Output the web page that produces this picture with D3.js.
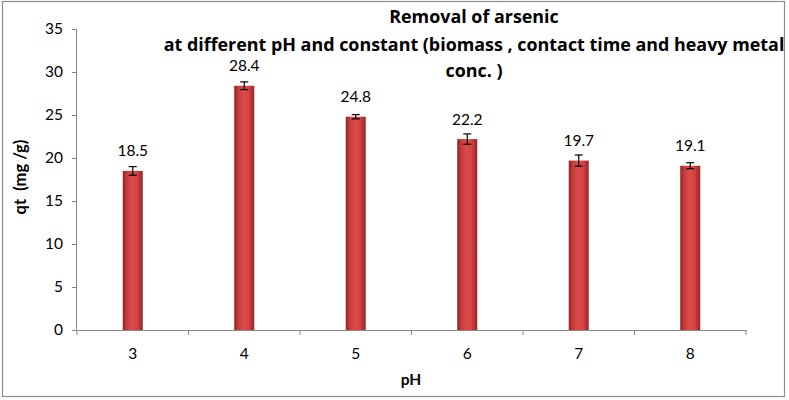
<!DOCTYPE html>
<html><head><meta charset="utf-8">
<script src="https://cdn.jsdelivr.net/npm/d3@7"></script>
<style>body{margin:0;background:#fff}svg{display:block}text{font-family:Lato,"Open Sans",sans-serif}</style>
</head><body><svg id="c" width="789" height="400"></svg>
<script>
const categories = ["3","4","5","6","7","8"];
const values = [18.5, 28.4, 24.8, 22.2, 19.7, 19.1];
const errors = [0.5, 0.45, 0.25, 0.6, 0.65, 0.35];
const yTicks = [0,5,10,15,20,25,30,35];
const titleLines = ["Removal of arsenic","at different pH and constant (biomass , contact time and heavy metal","conc. )"];
const xTitle = "pH";
const yTitle = "qt  (mg /g)";

const svg = d3.select("#c");
const W=789,H=400;
const m={left:77,right:43,top:29,bottom:70};
const x=d3.scaleBand().domain(categories).range([m.left,W-m.right]);
const y=d3.scaleLinear().domain([0,35]).range([H-m.bottom,m.top]);

svg.append("rect").attr("x",2.5).attr("y",1.5).attr("width",782).attr("height",395).attr("fill","#fff").attr("stroke","#8c8c8c").attr("stroke-width",1.2);

const defs=svg.append("defs");
const g=defs.append("linearGradient").attr("id","bar").attr("x1","0").attr("x2","1").attr("y1","0").attr("y2","0");
[["0%","#8e2222"],["18%","#c23a3a"],["45%","#dd4a4a"],["70%","#d84444"],["100%","#952626"]].forEach(s=>g.append("stop").attr("offset",s[0]).attr("stop-color",s[1]));

const ya=svg.append("g").attr("transform",`translate(${m.left},0)`).call(d3.axisLeft(y).tickValues(yTicks).tickSize(5).tickPadding(9));
const xa=svg.append("g").attr("transform",`translate(0,${y(0)})`).call(d3.axisBottom(x).tickSize(0).tickPadding(18));
[ya,xa].forEach(a=>{a.selectAll("path,line").attr("stroke","#868686");a.selectAll("text").attr("font-size",15.5).attr("fill","#000").style("font-family","Lato,'Open Sans',sans-serif");});
ya.select(".domain").attr("d",`M-0.5,${y(35)}V${y(0)}`);
const bounds=[...categories.map(c=>x(c)),x(categories[categories.length-1])+x.bandwidth()];
xa.selectAll(".bt").data(bounds).enter().append("line").attr("x1",d=>d).attr("x2",d=>d).attr("y1",0).attr("y2",5).attr("stroke","#868686");

const bw=20;
const bars=svg.append("g");
bars.selectAll("rect").data(values).enter().append("rect")
 .attr("x",(d,i)=>x(categories[i])+x.bandwidth()/2-bw/2).attr("width",bw)
 .attr("y",d=>y(d)).attr("height",d=>y(0)-y(d)).attr("fill","url(#bar)");
const eb=svg.append("g").attr("stroke","#000").attr("stroke-width",1.2);
values.forEach((v,i)=>{
 const cx=x(categories[i])+x.bandwidth()/2;
 const t=y(v+errors[i]),b=y(v-errors[i]);
 eb.append("line").attr("x1",cx).attr("x2",cx).attr("y1",t).attr("y2",b);
 eb.append("line").attr("x1",cx-4).attr("x2",cx+4).attr("y1",t).attr("y2",t);
 eb.append("line").attr("x1",cx-4).attr("x2",cx+4).attr("y1",b).attr("y2",b);
});
svg.append("g").selectAll("text").data(values).enter().append("text")
 .attr("x",(d,i)=>x(categories[i])+x.bandwidth()/2).attr("y",d=>y(d)-20).attr("dy","0.35em")
 .attr("text-anchor","middle").attr("font-size",15.5).text(d=>d.toFixed(1));

const ty=[17,45,71];
svg.append("g").selectAll("text").data(titleLines).enter().append("text")
 .attr("x",474).attr("y",(d,i)=>ty[i]).attr("dy","0.35em").attr("text-anchor","middle")
 .attr("font-size",17.9).attr("font-weight","bold").style("font-family","'Open Sans',sans-serif").text(d=>d);
svg.append("text").attr("x",411).attr("y",380).attr("dy","0.35em").attr("text-anchor","middle").attr("font-size",15.5).attr("font-weight","bold").text(xTitle);
svg.append("text").attr("transform","translate(20,177) rotate(-90)").attr("dy","0.35em").attr("text-anchor","middle").attr("font-size",16.5).attr("font-weight","bold").style("white-space","pre").text(yTitle);
</script></body></html>
